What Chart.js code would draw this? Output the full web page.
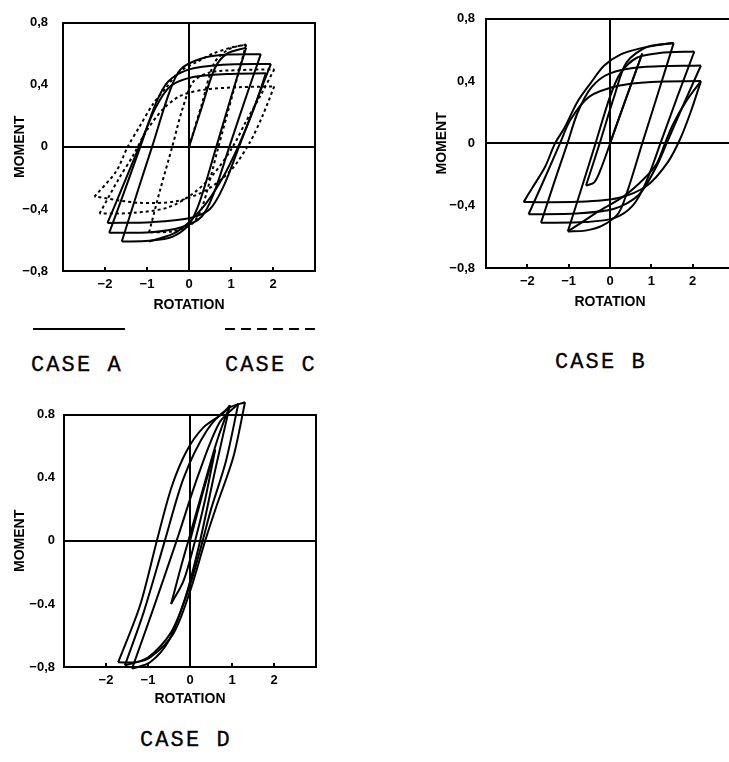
<!DOCTYPE html>
<html>
<head>
<meta charset="utf-8">
<script src="https://cdn.jsdelivr.net/npm/chart.js@4.4.0/dist/chart.umd.min.js"></script>
<style>
  html, body { margin: 0; padding: 0; background: #fff; width: 729px; height: 762px; overflow: hidden; position: relative; }
  .panel { position: absolute; }
  .case { position: absolute; font-family: "Liberation Mono", monospace; font-size: 22px; letter-spacing: 2.1px; color: #000; line-height: 1; white-space: pre; -webkit-text-stroke: 0.3px #000; }
  .key { position: absolute; height: 2px; }
</style>
</head>
<body>
<canvas id="chartA" class="panel" width="330" height="315" style="left:0;top:0"></canvas>
<canvas id="chartB" class="panel" width="340" height="315" style="left:400px;top:0"></canvas>
<canvas id="chartD" class="panel" width="330" height="320" style="left:0;top:398px"></canvas>

<div class="key" style="left:33px;top:328px;width:92px;background:#000"></div>
<div class="key" style="left:225px;top:328px;width:93px;background:repeating-linear-gradient(90deg,#000 0 10px,transparent 10px 16px)"></div>
<div class="case" style="left:31px;top:355px">CASE A</div>
<div class="case" style="left:225px;top:355px">CASE C</div>
<div class="case" style="left:555px;top:352px">CASE B</div>
<div class="case" style="left:140px;top:730px">CASE D</div>

<script>
// axis ticks (same for all three panels)
const rotationTicks = [-2, -1, 0, 1, 2];
const momentTicks = [-0.8, -0.4, 0, 0.4, 0.8];
const momentLabelsAB = ['−0,8', '−0,4', '0', '0,4', '0,8'];
const momentLabelsD = ['−0,8', '−0.4', '0', '0.4', '0.8'];

// CASE A (solid), [rotation, moment] along each loading / unloading branch
const caseA_b0 = [[0, 0], [0.31, 0.26], [0.62, 0.51], [0.9, 0.6], [1.36, 0.64]];
const caseA_b1 = [[1.36, 0.64], [1.0, 0.32], [0.65, 0], [0.26, -0.35], [0, -0.5], [-0.4, -0.58], [-0.95, -0.605], [-1.6, -0.61]];
const caseA_b2 = [[-1.6, -0.61], [-1.24, -0.3], [-0.88, 0], [-0.47, 0.35], [-0.2, 0.5], [0.3, 0.57], [0.9, 0.595], [1.71, 0.598]];
const caseA_b3 = [[1.71, 0.598], [1.33, 0.3], [0.96, 0], [0.59, -0.3], [0.3, -0.45], [-0.2, -0.52], [-0.9, -0.55], [-1.9, -0.554]];
const caseA_b4 = [[-1.9, -0.554], [-1.53, -0.28], [-1.16, 0], [-0.79, 0.28], [-0.5, 0.42], [0, 0.5], [0.8, 0.53], [1.95, 0.535]];
const caseA_b5 = [[1.95, 0.535], [1.57, 0.27], [1.19, 0], [0.83, -0.25], [0.5, -0.4], [0, -0.46], [-0.9, -0.485], [-1.94, -0.49]];
const caseA_b6 = [[-1.94, -0.49], [-1.57, -0.25], [-1.19, 0], [-0.8, 0.25], [-0.45, 0.39], [0.1, 0.45], [0.9, 0.47], [1.83, 0.475]];
const caseA_b7 = [[1.83, 0.475], [1.55, 0.25], [1.2, 0.02], [0.8, -0.2], [0.3, -0.4], [-0.3, -0.55], [-0.95, -0.61]];

// CASE C (dashed), same panel
const caseC_b0 = [[0, 0], [0.3, 0.27], [0.6, 0.54], [0.95, 0.63], [1.36, 0.66]];
const caseC_b1 = [[1.36, 0.66], [1.03, 0.33], [0.7, 0], [0.3, -0.4], [0.05, -0.5], [-0.4, -0.545], [-0.95, -0.55]];
const caseC_b2 = [[-0.95, -0.55], [-0.68, -0.27], [-0.4, 0], [-0.15, 0.25], [0.1, 0.42], [0.5, 0.48], [1.2, 0.495], [2.03, 0.5]];
const caseC_b3 = [[2.03, 0.5], [1.7, 0.33], [1.35, 0.16], [1.04, 0], [0.6, -0.17], [0.1, -0.3], [-0.5, -0.39], [-1.3, -0.425], [-2.13, -0.43]];
const caseC_b4 = [[-2.13, -0.43], [-1.66, -0.2], [-1.34, -0.06], [-1.02, 0.1], [-0.63, 0.24], [-0.2, 0.33], [0.4, 0.37], [1.2, 0.385], [2.03, 0.39]];
const caseC_b5 = [[2.03, 0.39], [1.75, 0.2], [1.45, 0.03], [1.0, -0.15], [0.4, -0.28], [-0.3, -0.35], [-1.2, -0.36], [-2.25, -0.32]];
const caseC_b6 = [[-2.25, -0.32], [-1.74, -0.16], [-1.46, 0], [-1.18, 0.13], [-0.86, 0.275], [-0.55, 0.38], [-0.23, 0.485], [0.17, 0.545], [0.56, 0.6], [1.0, 0.64], [1.36, 0.66]];

// CASE B (solid)
const caseB_b0 = [[0, 0], [0.39, 0.29], [0.78, 0.577]];
const caseB_b1 = [[0.78, 0.577], [0.2, 0.15], [-0.2, -0.15], [-0.38, -0.25], [-0.58, -0.27]];
const caseB_b2 = [[-0.58, -0.27], [-0.25, 0], [0.1, 0.3], [0.4, 0.52], [0.9, 0.62], [1.54, 0.644]];
const caseB_b3 = [[1.54, 0.644], [1.16, 0.32], [0.78, 0], [0.43, -0.3], [0.2, -0.45], [-0.2, -0.53], [-0.6, -0.56], [-1.02, -0.565]];
const caseB_b4 = [[-1.02, -0.565], [-0.68, -0.28], [-0.35, 0], [0, 0.3], [0.25, 0.45], [0.65, 0.55], [1.2, 0.58], [2.04, 0.59]];
const caseB_b5 = [[2.04, 0.59], [1.63, 0.3], [1.22, 0], [0.87, -0.25], [0.55, -0.4], [0.1, -0.48], [-0.6, -0.505], [-1.67, -0.51]];
const caseB_b6 = [[-1.67, -0.51], [-1.35, -0.25], [-1.03, 0], [-0.78, 0.2], [-0.45, 0.36], [0, 0.45], [0.8, 0.49], [2.2, 0.5]];
const caseB_b7 = [[2.2, 0.5], [1.78, 0.25], [1.37, 0], [1.12, -0.15], [0.7, -0.33], [0.1, -0.42], [-0.8, -0.45], [-1.97, -0.455]];
const caseB_b8 = [[-1.97, -0.455], [-1.59, -0.23], [-1.21, 0], [-0.96, 0.15], [-0.5, 0.3], [0.2, 0.37], [1.0, 0.395], [2.2, 0.4]];
const caseB_b9 = [[2.2, 0.4], [1.84, 0.27], [1.52, 0.12], [1.33, 0], [1.13, -0.13], [0.81, -0.23], [0.33, -0.34], [-0.3, -0.44], [-0.7, -0.51], [-1.02, -0.565]];
const caseB_b10 = [[-2.09, -0.377], [-1.89, -0.29], [-1.57, -0.15], [-1.33, 0], [-1.1, 0.1], [-0.78, 0.27], [-0.46, 0.39], [-0.14, 0.5], [0.25, 0.57], [0.73, 0.61], [1.21, 0.633], [1.54, 0.644]];
const caseB_b11 = [[2.2, 0.4], [1.95, 0.2], [1.7, 0.03], [1.4, -0.12], [0.9, -0.27], [0.2, -0.35], [-0.8, -0.375], [-2.09, -0.377]];

// CASE D (solid)
const caseD_b0 = [[0, 0], [0.3, 0.3], [0.6, 0.58]];
const caseD_b1 = [[0.6, 0.58], [0.35, 0.25], [0.12, 0], [-0.15, -0.25], [-0.45, -0.4]];
const caseD_b2 = [[-0.45, -0.4], [-0.2, -0.15], [-0.04, 0], [0.3, 0.32], [0.65, 0.64], [0.95, 0.86]];
const caseD_b3 = [[0.95, 0.86], [0.6, 0.45], [0.24, 0], [-0.1, -0.35], [-0.5, -0.63], [-0.95, -0.77], [-1.38, -0.81]];
const caseD_b4 = [[-1.38, -0.81], [-0.9, -0.45], [-0.32, 0], [0.2, 0.42], [0.7, 0.75], [1.15, 0.87]];
const caseD_b5 = [[1.15, 0.87], [0.85, 0.5], [0.5, 0.2], [0.3, 0], [0, -0.28], [-0.45, -0.58], [-1.0, -0.74], [-1.55, -0.79]];
const caseD_b6 = [[-1.55, -0.79], [-1.1, -0.45], [-0.6, 0], [-0.15, 0.4], [0.4, 0.7], [0.9, 0.84], [1.31, 0.88]];
const caseD_b7 = [[1.31, 0.88], [1.03, 0.53], [0.63, 0.22], [0.36, 0], [0, -0.32], [-0.4, -0.59], [-0.95, -0.74], [-1.3, -0.77], [-1.71, -0.77]];
const caseD_b8 = [[-1.71, -0.77], [-1.19, -0.41], [-0.79, 0], [-0.44, 0.34], [-0.08, 0.57], [0.32, 0.72], [0.79, 0.81], [0.95, 0.86]];

const INK = '#000';
const TICK_FONT = { family: 'Liberation Sans', weight: 'bold', size: 13 };
const TITLE_FONT = { family: 'Liberation Sans', weight: 'bold', size: 14 };

function branch(points, dashed) {
    return {
        data: points.map(([x, y]) => ({ x: x, y: y })),
        borderColor: INK,
        borderWidth: 2,
        borderDash: dashed ? [3, 3] : [],
        pointRadius: 0,
        tension: 0.3,
        fill: false,
        clip: false
    };
}

// short tick marks pointing into the plot on the bottom border
const innerTicks = {
    id: 'innerTicks',
    afterDatasetsDraw(chart) {
        const { ctx, chartArea } = chart;
        const x = chart.scales.x;
        ctx.save();
        ctx.strokeStyle = INK;
        ctx.lineWidth = 2;
        rotationTicks.forEach(v => {
            if (v === 0) return;
            const px = Math.round(x.getPixelForValue(v));
            ctx.beginPath();
            ctx.moveTo(px, chartArea.bottom);
            ctx.lineTo(px, chartArea.bottom - 4);
            ctx.stroke();
        });
        ctx.restore();
    }
};

function zeroLine(ctx) {
    return Math.abs(ctx.tick.value) < 1e-9 ? INK : 'rgba(0,0,0,0)';
}

function makePanel(id, datasets, labels, g) {
    const canvas = document.getElementById(id);
    return new Chart(canvas.getContext('2d'), {
        type: 'line',
        data: { datasets: datasets },
        plugins: [innerTicks],
        options: {
            responsive: false,
            animation: false,
            events: [],
            layout: { padding: 0 },
            plugins: { legend: { display: false }, tooltip: { enabled: false } },
            scales: {
                x: {
                    type: 'linear', position: 'bottom', min: -3, max: 3,
                    afterBuildTicks: s => { s.ticks = [-3].concat(rotationTicks, [3]).map(v => ({ value: v })); },
                    ticks: {
                        color: INK, font: TICK_FONT, padding: g.xPad, maxRotation: 0, autoSkip: false,
                        callback: v => (Math.abs(v) === 3 ? '' : (v < 0 ? '−' + (-v) : String(v)))
                    },
                    grid: { drawTicks: false, color: zeroLine, lineWidth: 2 },
                    border: { display: true, color: INK, width: 2 },
                    title: { display: true, text: 'ROTATION', color: INK, font: TITLE_FONT, padding: { top: 0, bottom: g.xTitle } },
                    afterFit: s => { s.height = g.h - g.bottom; }
                },
                y: {
                    type: 'linear', position: 'left', min: -0.8, max: 0.8,
                    afterBuildTicks: s => { s.ticks = momentTicks.map(v => ({ value: v })); },
                    ticks: {
                        color: INK, font: TICK_FONT, padding: g.yPad,
                        callback: v => labels[momentTicks.findIndex(t => Math.abs(t - v) < 1e-6)]
                    },
                    grid: { drawTicks: false, color: zeroLine, lineWidth: 2 },
                    border: { display: true, color: INK, width: 2 },
                    title: { display: true, text: 'MOMENT', color: INK, font: TITLE_FONT, padding: { top: g.yTitle, bottom: 0 } },
                    afterFit: s => { s.width = g.left; }
                },
                x2: {
                    type: 'linear', position: 'top', min: -3, max: 3,
                    ticks: { display: false }, grid: { display: false, drawTicks: false },
                    border: { display: true, color: INK, width: 2 },
                    afterFit: s => { s.height = g.top; }
                },
                y2: {
                    type: 'linear', position: 'right', min: -0.8, max: 0.8,
                    ticks: { display: false }, grid: { display: false, drawTicks: false },
                    border: { display: true, color: INK, width: 2 },
                    afterFit: s => { s.width = g.w - g.right; }
                }
            }
        }
    });
}

makePanel('chartA', [
    branch(caseA_b0), branch(caseA_b1), branch(caseA_b2), branch(caseA_b3),
    branch(caseA_b4), branch(caseA_b5), branch(caseA_b6), branch(caseA_b7),
    branch(caseC_b0, true), branch(caseC_b1, true), branch(caseC_b2, true), branch(caseC_b3, true),
    branch(caseC_b4, true), branch(caseC_b5, true), branch(caseC_b6, true)
], momentLabelsAB, { w: 330, h: 315, left: 63, right: 315, top: 15, bottom: 271, xPad: 6, yPad: 15, xTitle: 1, yTitle: 12 });

makePanel('chartB', [
    branch(caseB_b0), branch(caseB_b1), branch(caseB_b2), branch(caseB_b3), branch(caseB_b4),
    branch(caseB_b5), branch(caseB_b6), branch(caseB_b7), branch(caseB_b8), branch(caseB_b9),
    branch(caseB_b10), branch(caseB_b11)
], momentLabelsAB, { w: 340, h: 315, left: 86, right: 338, top: 15, bottom: 268, xPad: 6, yPad: 11, xTitle: 4, yTitle: 34 });

makePanel('chartD', [
    branch(caseD_b0), branch(caseD_b1), branch(caseD_b2), branch(caseD_b3), branch(caseD_b4),
    branch(caseD_b5), branch(caseD_b6), branch(caseD_b7), branch(caseD_b8)
], momentLabelsD, { w: 330, h: 320, left: 64, right: 316, top: 15, bottom: 269, xPad: 6, yPad: 9, xTitle: 10, yTitle: 12 });
</script>
</body>
</html>
